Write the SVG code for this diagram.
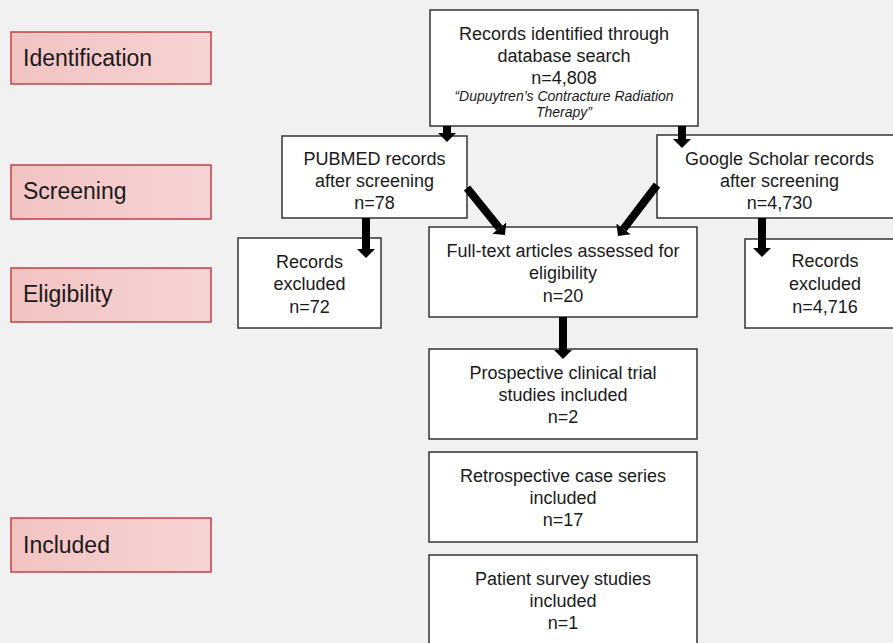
<svg xmlns="http://www.w3.org/2000/svg" width="893" height="643" viewBox="0 0 893 643">
<defs>
<marker id="ah" markerUnits="userSpaceOnUse" markerWidth="9" markerHeight="18" viewBox="0 0 9 18" refX="0" refY="9" orient="auto">
<path d="M0,0 L9,9 L0,18 z" fill="#000"/>
</marker>
<linearGradient id="pink" x1="0" y1="0" x2="1" y2="0">
<stop offset="0" stop-color="#f3c3c3"/>
<stop offset="1" stop-color="#f7d3d3"/>
</linearGradient>
</defs>
<style>
.box{fill:#fff;stroke:#333;stroke-width:1.5}
.stage{fill:url(#pink);stroke:#c0404a;stroke-width:1.5}
text{font-family:"Liberation Sans",Arial,sans-serif;fill:#1a1a1a}
.t{font-size:18px;text-anchor:middle}
.s{font-size:23px}
.i{font-size:14px;font-style:italic;text-anchor:middle}
.arr{stroke:#000;stroke-width:8;fill:none;marker-end:url(#ah)}
</style>
<rect width="893" height="643" fill="#f1f1f1"/>

<g id="stage-identification"><rect class="stage" x="11" y="32" width="200" height="52"/><text class="s" x="23" y="66">Identification</text></g>
<g id="stage-screening"><rect class="stage" x="11" y="165" width="200" height="54"/><text class="s" x="23" y="199">Screening</text></g>
<g id="stage-eligibility"><rect class="stage" x="11" y="268" width="200" height="54"/><text class="s" x="23" y="302">Eligibility</text></g>
<g id="stage-included"><rect class="stage" x="11" y="518" width="200" height="54"/><text class="s" x="23" y="553">Included</text></g>

<g id="n-identified"><rect class="box" x="430" y="10" width="268" height="116"/>
<text class="t" x="564" y="39.5">Records identified through</text>
<text class="t" x="564" y="62">database search</text>
<text class="t" x="564" y="84">n=4,808</text>
<text class="i" x="564" y="101">“Dupuytren’s Contracture Radiation</text>
<text class="i" x="564" y="117">Therapy”</text></g>

<g id="n-pubmed"><rect class="box" x="282" y="136" width="185" height="82"/>
<text class="t" x="374.5" y="165">PUBMED records</text>
<text class="t" x="374.5" y="187">after screening</text>
<text class="t" x="374.5" y="209">n=78</text></g>

<g id="n-google"><rect class="box" x="657" y="135" width="246" height="83"/>
<text class="t" x="779.5" y="165">Google Scholar records</text>
<text class="t" x="779.5" y="187">after screening</text>
<text class="t" x="779.5" y="209">n=4,730</text></g>

<g id="n-excl-left"><rect class="box" x="238" y="238" width="143" height="90"/>
<text class="t" x="309.5" y="268">Records</text>
<text class="t" x="309.5" y="290">excluded</text>
<text class="t" x="309.5" y="313">n=72</text></g>

<g id="n-fulltext"><rect class="box" x="429" y="227" width="268" height="90"/>
<text class="t" x="563" y="257">Full-text articles assessed for</text>
<text class="t" x="563" y="279">eligibility</text>
<text class="t" x="563" y="302">n=20</text></g>

<g id="n-excl-right"><rect class="box" x="745" y="239" width="160" height="89"/>
<text class="t" x="825" y="267">Records</text>
<text class="t" x="825" y="290">excluded</text>
<text class="t" x="825" y="313">n=4,716</text></g>

<g id="n-prospective"><rect class="box" x="429" y="349" width="268" height="90"/>
<text class="t" x="563" y="379">Prospective clinical trial</text>
<text class="t" x="563" y="401">studies included</text>
<text class="t" x="563" y="423">n=2</text></g>

<g id="n-retrospective"><rect class="box" x="429" y="452" width="268" height="90"/>
<text class="t" x="563" y="482">Retrospective case series</text>
<text class="t" x="563" y="504">included</text>
<text class="t" x="563" y="526">n=17</text></g>

<g id="n-survey"><rect class="box" x="429" y="555" width="268" height="100"/>
<text class="t" x="563" y="585">Patient survey studies</text>
<text class="t" x="563" y="607">included</text>
<text class="t" x="563" y="629">n=1</text></g>

<g id="connectors">
<line class="arr" x1="447" y1="126" x2="447" y2="133"/>
<line class="arr" x1="682" y1="126" x2="682" y2="139"/>
<line class="arr" x1="467" y1="188" x2="499.3" y2="228"/>
<line class="arr" x1="657" y1="185" x2="623.5" y2="228.9"/>
<line class="arr" x1="366" y1="218" x2="366" y2="249"/>
<line class="arr" x1="762" y1="218" x2="762" y2="248"/>
<line class="arr" x1="563" y1="317" x2="563" y2="350"/>
</g>
</svg>
